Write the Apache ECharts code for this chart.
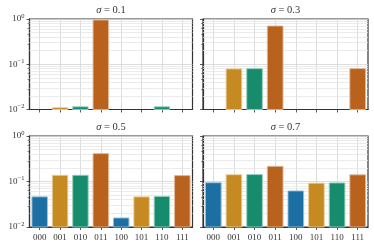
<!DOCTYPE html>
<html><head><meta charset="utf-8">
<script src="https://cdn.jsdelivr.net/npm/echarts@6/dist/echarts.min.js"></script>
<style>html,body{margin:0;padding:0;background:#fff}#c{width:374px;height:247px}</style>
</head><body><div id="c"></div>
<script>
const categories = ['000','001','010','011','100','101','110','111'];
const sigmas = ['0.1','0.3','0.5','0.7'];
const probs01 = [null, 0.011, 0.0115, 0.95, null, null, 0.0115, null];
const probs03 = [null, 0.079, 0.080, 0.70, null, null, null, 0.080];
const probs05 = [0.046, 0.137, 0.137, 0.41, 0.0158, 0.046, 0.047, 0.135];
const probs07 = [0.094, 0.141, 0.142, 0.215, 0.062, 0.092, 0.093, 0.140];
const yMin = 0.01, yMax = 1;
const minorLines = [0.02,0.03,0.04,0.05,0.06,0.07,0.08,0.09,0.2,0.3,0.4,0.5,0.6,0.7,0.8,0.9];
const palette = ['#1b6fa3','#c68a22','#178c6c','#b9621e'];
const edge = ['#9cc0d8','#ead0a0','#9ad0bf','#e0b898'];

const allData = [probs01, probs03, probs05, probs07];
const grids = [
  {left:29.5, top:19, width:163, height:90.5},
  {left:203, top:19, width:165, height:90.5},
  {left:29.5, top:136, width:163, height:91},
  {left:203, top:136, width:165, height:91}
];
const serif = 'Liberation Serif';
const series = [];
allData.forEach((d,i)=>{
  series.push({
    type:'line', xAxisIndex:i, yAxisIndex:i, data:[], z:1, silent:true,
    markLine:{silent:true, symbol:'none', label:{show:false}, z:1, animation:false,
      lineStyle:{color:'#e6e6e6', width:0.8, type:'solid'},
      data: minorLines.map(v=>({yAxis:v}))}
  });
  series.push({
    type:'custom', xAxisIndex:i, yAxisIndex:i, z:3,
    encode:{x:0, y:1},
    data: d.map((v,k)=>[k, v===null?'-':v]).filter(p=>p[1]!=='-'),
    renderItem:(params, api)=>{
      const k = api.value(0), v = api.value(1);
      const top = api.coord([k, v]);
      const bot = api.coord([k, yMin]);
      const w = api.size([1, 1])[0] * 0.76;
      return {type:'rect', shape:{x:top[0]-w/2, y:top[1], width:w, height:bot[1]-top[1]},
        style:{fill:palette[k%4], stroke:edge[k%4], lineWidth:0.9}};
    }
  });
});
const option = {
  animation:false,
  title: grids.map((g,i)=>({
    text:'{i|σ} = ' + sigmas[i],
    left: g.left + g.width/2, top: g.top - 14, textAlign:'center', padding:0,
    textStyle:{fontFamily:serif, fontSize:10.5, fontWeight:'normal', color:'#333',
      rich:{i:{fontFamily:serif, fontStyle:'italic', fontSize:10.5, color:'#333'}}}
  })),
  grid: grids.map(g=>Object.assign({show:true, borderColor:'#333', borderWidth:1.2, backgroundColor:'transparent', containLabel:false}, g)),
  xAxis: grids.map((g,i)=>({
    type:'category', gridIndex:i, data:categories,
    axisLine:{show:true, lineStyle:{color:'#333', width:1.2}},
    axisTick:{show:true, alignWithLabel:true, length:3, lineStyle:{color:'#333', width:0.8}},
    axisLabel:{show:i>=2, fontFamily:serif, fontSize:9, color:'#333', margin:6},
    splitLine:{show:true, alignWithLabel:true, lineStyle:{color:'#d4d4d4', width:0.8}}
  })),
  yAxis: grids.map((g,i)=>({
    type:'log', logBase:10, gridIndex:i, min:yMin, max:yMax,
    axisLine:{show:true, lineStyle:{color:'#333', width:1.2}},
    axisTick:{show:true, length:3, lineStyle:{color:'#333', width:0.8}},
    minorTick:{show:true, length:2, lineStyle:{color:'#333', width:0.5}},
    axisLabel:{show:i%2===0, fontFamily:serif, fontSize:9, color:'#333', margin:5,
      formatter:v=>{const e=Math.round(Math.log10(v)); return '10{s|'+(e<0?'−'+(-e):e)+'}';},
      rich:{s:{fontSize:6.5, verticalAlign:'top', padding:[0,0,6,0], fontFamily:serif, color:'#333'}}},
    splitLine:{show:true, lineStyle:{color:'#d4d4d4', width:0.8}}
  })),
  series: series
};
const chart = echarts.init(document.getElementById('c'), null, {renderer:'canvas'});
chart.setOption(option);
</script></body></html>
